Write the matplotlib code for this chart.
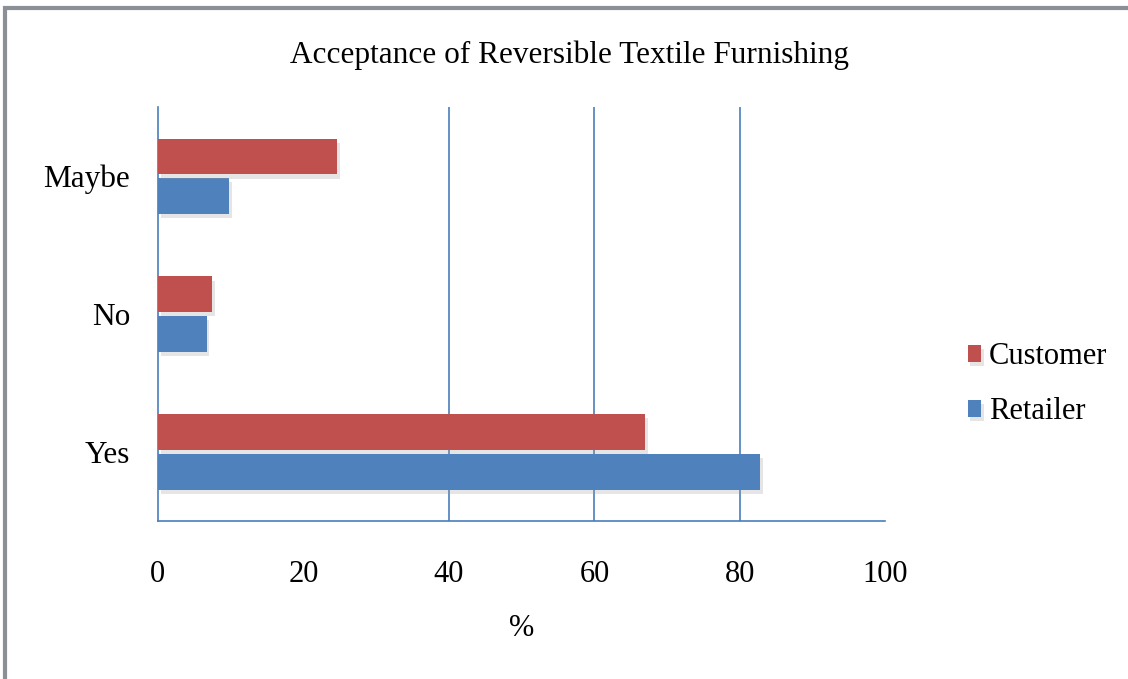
import numpy as np
import matplotlib
matplotlib.use("Agg")
import matplotlib.pyplot as plt
import matplotlib.patheffects as pe
from matplotlib.patches import Rectangle

plt.rcParams['font.family'] = ['Liberation Serif', 'DejaVu Serif']

# data
categories = ['Yes', 'No', 'Maybe']
customer = [67, 7.5, 24.6]
retailer = [82.8, 6.7, 9.8]
x_ticks = [0, 20, 40, 60, 80, 100]

red = '#C0504D'
blue = '#4F81BD'
axis_col = '#4A7EBB'

fig = plt.figure(figsize=(11.28, 6.79), dpi=100)
ax = fig.add_axes([0.140, 0.233, 0.645, 0.609])

y = np.arange(len(categories))
h = 0.26
off = 0.1435
shadow = [pe.SimplePatchShadow(offset=(2, -3), shadow_rgbFace='#999999', alpha=0.25), pe.Normal()]
ax.barh(y - off, retailer, height=h, color=blue, label='Retailer', zorder=3,
        path_effects=shadow)
ax.barh(y + off, customer, height=h, color=red, label='Customer', zorder=3,
        path_effects=shadow)

ax.set_xlim(0, 100)
ax.set_ylim(-0.5, 2.5)
ax.set_xticks(x_ticks)
ax.set_yticks(y)
ax.set_yticklabels(categories, fontsize=22.5)
ax.tick_params(axis='x', labelsize=22, length=0, pad=28)
ax.tick_params(axis='y', length=0, pad=20)

for v in [40, 60, 80]:
    ax.axvline(v, color=axis_col, lw=1.2, zorder=1)

for s in ['top', 'right']:
    ax.spines[s].set_visible(False)
for s in ['left', 'bottom']:
    ax.spines[s].set_color(axis_col)
    ax.spines[s].set_linewidth(1.2)

ax.set_xlabel('%', fontsize=22, labelpad=18)
fig.text(0.505, 0.918, 'Acceptance of Reversible Textile Furnishing',
         ha='center', va='center', fontsize=22.5)

handles, labels = ax.get_legend_handles_labels()
ax.legend(handles[::-1], labels[::-1], loc='center left', bbox_to_anchor=(1.075, 0.33),
          frameon=False, fontsize=22, handlelength=0.45, handleheight=0.45,
          handletextpad=0.25, labelspacing=0.85)

# outer frame of the picture
fig.patches.append(Rectangle((0.004, -0.01), 1.2, 0.998, transform=fig.transFigure,
                             fill=False, edgecolor='#8a9096', lw=3))

fig.savefig('out.png', dpi=100)
